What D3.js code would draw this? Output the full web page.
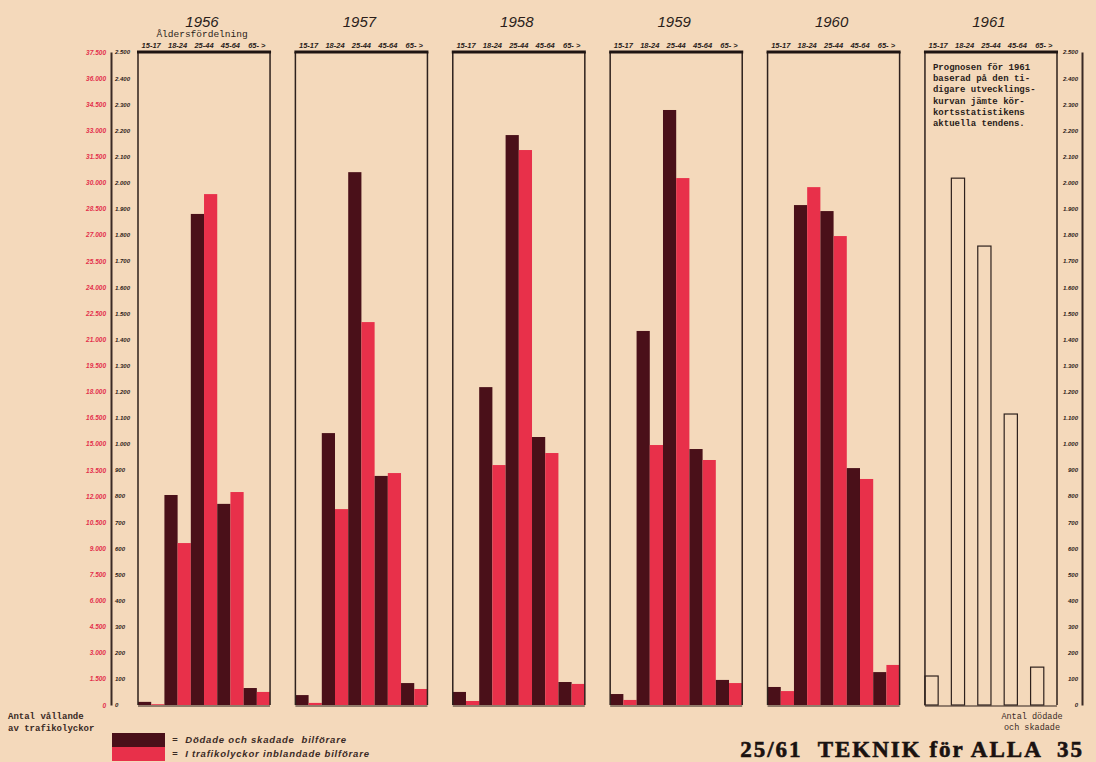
<!DOCTYPE html>
<meta charset="utf-8">
<style>
body { margin: 0; background: #f4d9bb; }
svg { display: block; background: #f4d9bb; }
.hand { font-family: "Liberation Sans", sans-serif; font-style: italic; }
.type { font-family: "Liberation Mono", "DejaVu Sans Mono", monospace; }
.redax text { fill: #e3304c; font: italic bold 6.5px "Liberation Sans", sans-serif; }
.blkax text { fill: #2a1a18; font: italic bold 6px "Liberation Sans", sans-serif; }
.redax path, .redax line { stroke: none; }
.blkax path { stroke: #3a2a25; stroke-width: 2px; }
.blkax line { stroke: none; }
</style>
<svg width="1096" height="762"></svg>
<script src="https://d3js.org/d3.v7.min.js"></script>
<script>

var years = ["1956", "1957", "1958", "1959", "1960"];
var ages = ["15-17", "18-24", "25-44", "45-64", "65- >"];

// Dödade och skadade bilförare (black scale, 0 - 2.500)
var killed = {
  "1956": [12, 804, 1880, 770, 65],
  "1957": [38, 1041, 2040, 877, 84],
  "1958": [50, 1217, 2182, 1026, 88],
  "1959": [42, 1432, 2278, 980, 96],
  "1960": [69, 1914, 1891, 907, 126]
};
// I trafikolyckor inblandade bilförare (red scale, 0 - 37.500)
var involved = {
  "1956": [45, 9300, 29340, 12230, 750],
  "1957": [120, 11250, 21990, 13320, 920],
  "1958": [230, 13780, 31870, 14470, 1210],
  "1959": [290, 14930, 30260, 14070, 1260],
  "1960": [800, 29740, 26930, 12980, 2300]
};
// Prognos 1961 (black scale)
var forecast1961 = [111, 2017, 1757, 1114, 145];

var blackTicks = d3.range(0, 2501, 100);
var redTicks = d3.range(0, 37501, 1500);

var prognosText = ["Prognosen för 1961", "baserad på den ti-", "digare utvecklings-",
  "kurvan jämte kör-", "kortsstatistikens", "aktuella tendens."];

var DARK = "#4a1019", RED = "#e8304a", INK = "#2e211d";

var svg = d3.select("svg");
var yTop = 52, yBase = 705;

var yBlack = d3.scaleLinear().domain([0, 2500]).range([yBase, yTop]);
var yRed = d3.scaleLinear().domain([0, 37500]).range([yBase, yTop]);

var allYears = years.concat(["1961"]);
var xPanel = d3.scaleBand().domain(allYears).range([138, 1057]).paddingInner(0.161).paddingOuter(0);
var xAge = d3.scaleBand().domain(ages).range([0, xPanel.bandwidth()]);
var xSer = d3.scaleBand().domain(["k", "i"]).range([0, xAge.bandwidth()]);

var loc = d3.formatLocale({ decimal: ",", thousands: ".", grouping: [3], currency: ["", " kr"] });
var fmt = loc.format(",d");

// left axes
svg.append("g").attr("class", "redax").attr("transform", "translate(106,0)")
  .call(d3.axisLeft(yRed).tickValues(redTicks).tickFormat(fmt).tickSize(0).tickPadding(0));
svg.append("g").attr("class", "blkax").attr("transform", "translate(111,0)")
  .call(d3.axisRight(yBlack).tickValues(blackTicks).tickFormat(fmt).tickSize(0).tickPadding(4));
// right axis
svg.append("g").attr("class", "blkax").attr("transform", "translate(1082,0)")
  .call(d3.axisLeft(yBlack).tickValues(blackTicks).tickFormat(fmt).tickSize(0).tickPadding(4));

// panels
var panel = svg.selectAll("g.panel").data(allYears).enter().append("g")
  .attr("class", "panel")
  .attr("transform", function(d) { return "translate(" + xPanel(d) + ",0)"; });

panel.filter(function(d) { return d !== "1961"; }).each(function(yr) {
  var g = d3.select(this);
  ages.forEach(function(a, i) {
    g.append("rect")
      .attr("x", xAge(a) + xSer("k")).attr("width", xSer.bandwidth())
      .attr("y", yBlack(killed[yr][i])).attr("height", yBase - yBlack(killed[yr][i]))
      .attr("fill", DARK);
    g.append("rect")
      .attr("x", xAge(a) + xSer("i")).attr("width", xSer.bandwidth())
      .attr("y", yRed(involved[yr][i])).attr("height", yBase - yRed(involved[yr][i]))
      .attr("fill", RED);
  });
});

panel.filter(function(d) { return d === "1961"; }).selectAll("rect.fc")
  .data(forecast1961).enter().append("rect")
  .attr("x", function(d, i) { return xAge(ages[i]) + xSer("k"); })
  .attr("width", xSer.bandwidth())
  .attr("y", function(d) { return yBlack(d); })
  .attr("height", function(d) { return yBase - yBlack(d); })
  .attr("fill", "none").attr("stroke", INK).attr("stroke-width", 1.2);

// boxes
panel.append("path")
  .attr("d", "M0," + yBase + "V" + yTop + "M" + xPanel.bandwidth() + "," + yTop + "V" + yBase)
  .attr("stroke", INK).attr("stroke-width", 1.5).attr("fill", "none");
panel.append("line").attr("x1", -1).attr("x2", xPanel.bandwidth() + 1)
  .attr("y1", yTop).attr("y2", yTop).attr("stroke", "#1e1412").attr("stroke-width", 3);
panel.append("line").attr("x1", 0).attr("x2", xPanel.bandwidth())
  .attr("y1", yBase + 1).attr("y2", yBase + 1).attr("stroke", INK).attr("stroke-width", 1.2);

// year titles
panel.append("text").attr("class", "hand")
  .attr("x", xPanel.bandwidth() / 2 - 2).attr("y", 27)
  .attr("text-anchor", "middle").attr("font-size", 15).attr("fill", "#2a1d1a")
  .text(function(d) { return d; });

// age labels
panel.selectAll("text.age").data(ages).enter().append("text")
  .attr("class", "hand age")
  .attr("x", function(d) { return xAge(d) + xAge.bandwidth() / 2; })
  .attr("y", 48).attr("text-anchor", "middle")
  .attr("font-size", 7.5).attr("font-weight", "bold").attr("fill", "#2a1d1a")
  .text(function(d) { return d; });

svg.append("text").attr("class", "type")
  .attr("x", xPanel("1956") + xPanel.bandwidth() / 2 - 2).attr("y", 37)
  .attr("text-anchor", "middle").attr("font-size", 9.5).attr("fill", "#2a1d1a")
  .text("Åldersfördelning");

// prognosis note
svg.append("g").selectAll("text").data(prognosText).enter().append("text")
  .attr("class", "type")
  .attr("x", xPanel("1961") + 8)
  .attr("y", function(d, i) { return 70 + i * 11.2; })
  .attr("font-size", 9).attr("font-weight", "bold").attr("fill", "#2a1d1a")
  .text(function(d) { return d; });

// axis captions
svg.append("g").selectAll("text").data(["Antal vållande", "av trafikolyckor"]).enter().append("text")
  .attr("class", "type").attr("x", 8).attr("y", function(d, i) { return 719 + i * 12; })
  .attr("font-size", 9).attr("font-weight", "bold").attr("fill", "#3a2a25")
  .text(function(d) { return d; });
svg.append("g").selectAll("text").data(["Antal dödade", "och skadade"]).enter().append("text")
  .attr("class", "type").attr("x", 1032).attr("y", function(d, i) { return 719 + i * 11; })
  .attr("text-anchor", "middle")
  .attr("font-size", 8.5).attr("fill", "#3a2a25")
  .text(function(d) { return d; });

// legend
var legend = [
  { c: DARK, t: "=  Dödade och skadade  bilförare" },
  { c: RED, t: "=  I trafikolyckor inblandade bilförare" }
];
var lg = svg.append("g").attr("transform", "translate(112,733)");
lg.selectAll("rect").data(legend).enter().append("rect")
  .attr("x", 0).attr("y", function(d, i) { return i * 14; })
  .attr("width", 53).attr("height", 14).attr("fill", function(d) { return d.c; });
lg.selectAll("text").data(legend).enter().append("text")
  .attr("class", "hand").attr("x", 60).attr("y", function(d, i) { return 10 + i * 14; })
  .attr("font-size", 9.5).attr("font-weight", "bold").attr("letter-spacing", 0.8).attr("fill", "#3a2a25")
  .attr("xml:space", "preserve")
  .text(function(d) { return d.t; });

// footer
svg.append("text").attr("x", 1084).attr("y", 757).attr("text-anchor", "end")
  .attr("font-family", "'Liberation Serif', serif").attr("font-weight", "bold")
  .attr("font-size", 23).attr("fill", "#1a1210").attr("letter-spacing", 2)
  .attr("stroke", "#1a1210").attr("stroke-width", 0.6)
  .attr("xml:space", "preserve")
  .text("25/61  TEKNIK för ALLA  35");

</script>
